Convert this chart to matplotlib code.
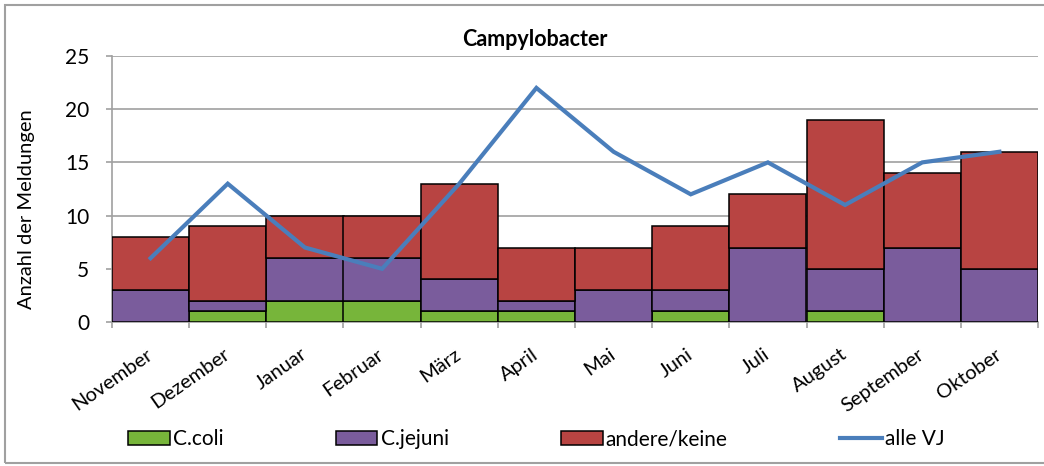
import matplotlib
matplotlib.use("Agg")
import matplotlib.pyplot as plt
import numpy as np
from matplotlib.patches import Rectangle

plt.rcParams['font.family'] = ['Lato', 'DejaVu Sans']

months = ["November", "Dezember", "Januar", "Februar", "März", "April",
          "Mai", "Juni", "Juli", "August", "September", "Oktober"]
c_coli = [0, 1, 2, 2, 1, 1, 0, 1, 0, 1, 0, 0]
c_jejuni = [3, 1, 4, 4, 3, 1, 3, 2, 7, 4, 7, 5]
andere = [5, 7, 4, 4, 9, 5, 4, 6, 5, 14, 7, 11]
alle_vj = [6, 13, 7, 5, 13, 22, 16, 12, 15, 11, 15, 16]

col_coli = '#77B53A'
col_jej = '#7A5C9C'
col_and = '#B84442'
col_line = '#4A7EBB'

fig = plt.figure(figsize=(10.44, 4.66), dpi=100)
ax = fig.add_axes([112/1044, 1-322/466, (1038-112)/1044, (322-56)/466])

x = np.arange(len(months))
b1 = ax.bar(x, c_coli, width=1.0, color=col_coli, edgecolor='black', linewidth=1.1, zorder=3, label='C.coli')
b2 = ax.bar(x, c_jejuni, width=1.0, bottom=c_coli, color=col_jej, edgecolor='black', linewidth=1.1, zorder=3, label='C.jejuni')
bot3 = np.array(c_coli) + np.array(c_jejuni)
b3 = ax.bar(x, andere, width=1.0, bottom=bot3, color=col_and, edgecolor='black', linewidth=1.1, zorder=3, label='andere/keine')
ln, = ax.plot(x, alle_vj, color=col_line, linewidth=3.0, zorder=4, label='alle VJ', solid_joinstyle='miter')

ax.set_xlim(-0.5, 11.5)
ax.set_ylim(0, 25)
ax.set_yticks([0, 5, 10, 15, 20, 25])
ax.yaxis.grid(True, color='#A0A0A0', linewidth=1.2, zorder=0)
ax.set_axisbelow(True)
for s in ['top', 'right']:
    ax.spines[s].set_visible(False)
ax.spines['left'].set_color('#A0A0A0')
ax.spines['bottom'].set_color('#A0A0A0')
ax.spines['left'].set_linewidth(1.2)
ax.spines['bottom'].set_linewidth(1.2)

ax.set_xticks(np.arange(-0.5, 12, 1.0))
ax.set_xticklabels([])
ax.tick_params(axis='x', which='major', length=4.5, color='#A0A0A0', width=1.2)
ax.set_xticks(x, minor=True)
ax.set_xticklabels(months, minor=True, rotation=35, ha='right', va='center',
                   rotation_mode='anchor', fontsize=14.5)
ax.tick_params(axis='x', which='minor', length=0, pad=22)
ax.tick_params(axis='y', length=4.5, color='#A0A0A0', width=1.2, labelsize=15, pad=12)

ax.set_ylabel('Anzahl der Meldungen', fontsize=14.5)
ax.yaxis.set_label_coords((35-112)/926, (322-209)/266)
fig.text(535/1044, 1-40/466, 'Campylobacter', fontsize=15.5, fontweight='bold',
         ha='center', va='center')

fig.legend(handles=[b1, b2, b3, ln], loc='center left', bbox_to_anchor=(128/1044, 1-439/466),
           ncol=4, frameon=False, fontsize=15, handlelength=2.0, handleheight=0.65,
           handletextpad=0.15, columnspacing=5.4, borderpad=0.0, borderaxespad=0.0)

fig.patches.append(Rectangle((5/1044, 3/466), 1.2, 458/466, transform=fig.transFigure,
                             fill=False, edgecolor='#A0A0A0', linewidth=1.5))

fig.savefig('out.png', dpi=100)
